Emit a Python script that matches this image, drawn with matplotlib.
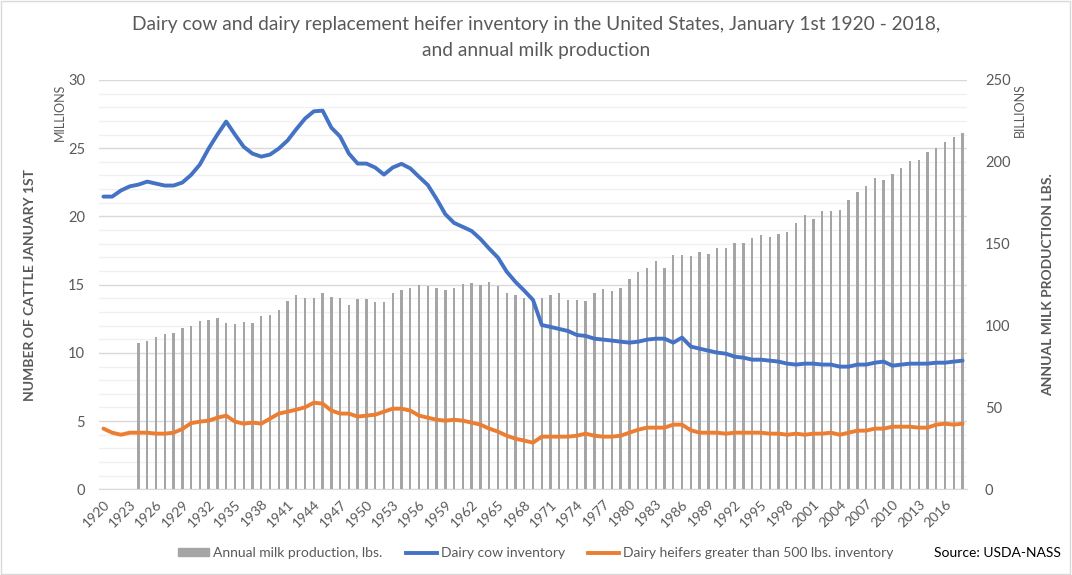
import matplotlib.pyplot as plt
import matplotlib.patches as mpatches
from matplotlib.lines import Line2D
import numpy as np

plt.rcParams['font.family'] = ['Lato', 'DejaVu Sans']

# Data
years = list(range(1920, 2019))

# annual milk production, billions of lbs (1924-2018)
milk_years = list(range(1924, 2019))
milk = [89.6, 90.6, 93.2, 95.1, 95.7, 98.7, 100.0, 103.0, 103.6, 104.8,
        101.6, 101.0, 102.2, 101.6, 106.1, 106.7, 109.7, 115.2, 118.9, 116.9,
        116.9, 120.1, 117.5, 116.9, 112.6, 116.2, 116.2, 114.4, 114.4, 120.1,
        121.8, 123.1, 124.8, 124.2, 123.0, 121.7, 123.0, 125.4, 126.2, 124.8,
        126.6, 124.2, 119.9, 118.7, 116.9, 116.1, 117.0, 118.7, 119.9, 115.6,
        115.6, 115.0, 119.9, 122.4, 121.1, 123.0, 128.5, 132.9, 135.2, 139.5,
        135.2, 143.1, 143.1, 142.5, 145.0, 143.7, 147.4, 147.4, 150.4, 150.4,
        153.5, 155.3, 154.1, 155.9, 157.2, 162.7, 167.5, 165.1, 170.0, 170.0,
        170.6, 176.7, 181.6, 185.3, 190.1, 188.9, 192.6, 196.3, 200.7, 201.1,
        206.0, 208.5, 212.1, 215.2, 217.6]

# dairy cow inventory, millions (1920-2018)
cows = [21.45, 21.45, 21.9, 22.2, 22.33, 22.55, 22.4, 22.26, 22.26, 22.48,
        23.04, 23.8, 24.97, 26.0, 26.95, 26.0, 25.1, 24.6, 24.38, 24.53,
        24.97, 25.56, 26.39, 27.17, 27.7, 27.75, 26.5, 25.85, 24.6, 23.87,
        23.87, 23.58, 23.06, 23.58, 23.85, 23.52, 22.9, 22.3, 21.28, 20.16,
        19.52, 19.23, 18.93, 18.35, 17.64, 16.98, 15.95, 15.2, 14.56, 13.88,
        12.04, 11.9, 11.75, 11.6, 11.31, 11.24, 11.04, 10.97, 10.9, 10.82,
        10.75, 10.82, 10.97, 11.04, 11.04, 10.75, 11.12, 10.46, 10.31, 10.16,
        10.02, 9.94, 9.72, 9.65, 9.5, 9.5, 9.43, 9.36, 9.21, 9.14,
        9.21, 9.21, 9.14, 9.14, 8.99, 8.99, 9.14, 9.14, 9.28, 9.36,
        9.06, 9.14, 9.21, 9.21, 9.21, 9.28, 9.28, 9.36, 9.43]

# dairy heifers > 500 lbs inventory, millions (1920-2018)
heifers = [4.45, 4.15, 4.0, 4.15, 4.15, 4.15, 4.08, 4.08, 4.15, 4.42,
           4.85, 4.96, 5.03, 5.25, 5.4, 4.96, 4.81, 4.89, 4.81, 5.18,
           5.55, 5.69, 5.84, 6.01, 6.35, 6.28, 5.77, 5.55, 5.55, 5.33,
           5.4, 5.47, 5.69, 5.91, 5.91, 5.77, 5.4, 5.25, 5.1, 5.03,
           5.1, 5.03, 4.89, 4.74, 4.45, 4.23, 3.93, 3.71, 3.57, 3.42,
           3.86, 3.86, 3.86, 3.86, 3.93, 4.08, 3.93, 3.86, 3.86, 3.93,
           4.15, 4.37, 4.52, 4.52, 4.52, 4.74, 4.74, 4.33, 4.15, 4.15,
           4.15, 4.08, 4.15, 4.15, 4.15, 4.15, 4.08, 4.08, 4.0, 4.08,
           4.0, 4.08, 4.08, 4.15, 4.0, 4.15, 4.3, 4.3, 4.45, 4.45,
           4.59, 4.59, 4.59, 4.52, 4.52, 4.74, 4.81, 4.74, 4.81]

tick_years = years[::3]

GRAY_TXT = '#595959'
BLUE = '#4472c4'
ORANGE = '#ed7d31'
BAR = '#a5a5a5'

fig = plt.figure(figsize=(10.72, 5.75), dpi=100)
axb = fig.add_axes([0.0924, 0.149, 0.8096, 0.712])

x_all = np.arange(len(years))
x_milk = np.array([years.index(y) for y in milk_years])

# gridlines on the millions scale (1 million steps), drawn behind bars
for m in range(0, 31):
    c = '#d9d9d9' if m % 5 == 0 else '#f0f0f0'
    axb.axhline(m * 250 / 30, color=c, linewidth=1.0, zorder=0)

axb.bar(x_milk, milk, width=0.27, color=BAR, zorder=2)
axb.set_ylim(0, 250)
axb.set_yticks(range(0, 251, 50))
axb.set_xlim(-0.5, len(years) - 0.5)
axb.set_xticks(x_all[::3])
axb.set_xticklabels([str(y) for y in tick_years], rotation=45, ha='right',
                    rotation_mode='anchor', fontsize=10, color=GRAY_TXT)
for s in ['top', 'left', 'right']:
    axb.spines[s].set_visible(False)
axb.spines['bottom'].set_color('#d9d9d9')

axl = axb.twinx()
axl.plot(x_all, cows, color=BLUE, linewidth=2.8, solid_capstyle='round', zorder=3)
axl.plot(x_all, heifers, color=ORANGE, linewidth=2.8, solid_capstyle='round', zorder=3)
axl.set_ylim(0, 30)
axl.set_yticks(range(0, 31, 5))
axl.yaxis.tick_left()
axl.tick_params(axis='y', length=0, labelcolor=GRAY_TXT, labelsize=10.5, pad=10)
for s in axl.spines.values():
    s.set_visible(False)

# twinx moves the original ticks to the left, so put bar ticks on the right now
axb.yaxis.tick_right()
axb.tick_params(axis='both', length=0, labelcolor=GRAY_TXT, labelsize=10.5)
axb.tick_params(axis='x', pad=6, labelsize=10)
axb.tick_params(axis='y', pad=13)

# titles and axis labels
fig.text(0.5, 0.957, 'Dairy cow and dairy replacement heifer inventory in the United States, January 1st 1920 - 2018,',
         ha='center', va='center', fontsize=13.8, color=GRAY_TXT)
fig.text(0.5, 0.913, 'and annual milk production', ha='center', va='center',
         fontsize=13.8, color=GRAY_TXT)
fig.text(0.028, 0.505, 'NUMBER OF CATTLE JANUARY 1ST', rotation=90, ha='center',
         va='center', fontsize=10, fontweight='bold', color=GRAY_TXT)
fig.text(0.056, 0.855, 'MILLIONS', rotation=90, ha='center', va='top',
         fontsize=9, color=GRAY_TXT)
fig.text(0.951, 0.855, 'BILLIONS', rotation=90, ha='center', va='top',
         fontsize=9, color=GRAY_TXT)
fig.text(0.978, 0.505, 'ANNUAL MILK PRODUCTION LBS.', rotation=90, ha='center',
         va='center', fontsize=10, fontweight='bold', color=GRAY_TXT)

handles = [mpatches.Rectangle((0, 0), 1, 1, color=BAR),
           Line2D([], [], color=BLUE, linewidth=2.8),
           Line2D([], [], color=ORANGE, linewidth=2.8)]
labels = ['Annual milk production, lbs.', 'Dairy cow inventory',
          'Dairy heifers greater than 500 lbs. inventory']
leg = fig.legend(handles, labels, loc='center', bbox_to_anchor=(0.5, 0.038),
                 ncol=3, frameon=False, fontsize=10, handlelength=2.2,
                 handletextpad=0.3, columnspacing=1.7, handleheight=0.55)
for t in leg.get_texts():
    t.set_color(GRAY_TXT)

fig.text(0.99, 0.038, 'Source: USDA-NASS', ha='right', va='center',
         fontsize=10, color='black')

fig.patches.append(mpatches.Rectangle((0.001, 0.002), 0.997, 0.996,
                                      transform=fig.transFigure, fill=False,
                                      edgecolor='#d9d9d9', linewidth=1))

fig.savefig('out.png', dpi=100, facecolor='white')
